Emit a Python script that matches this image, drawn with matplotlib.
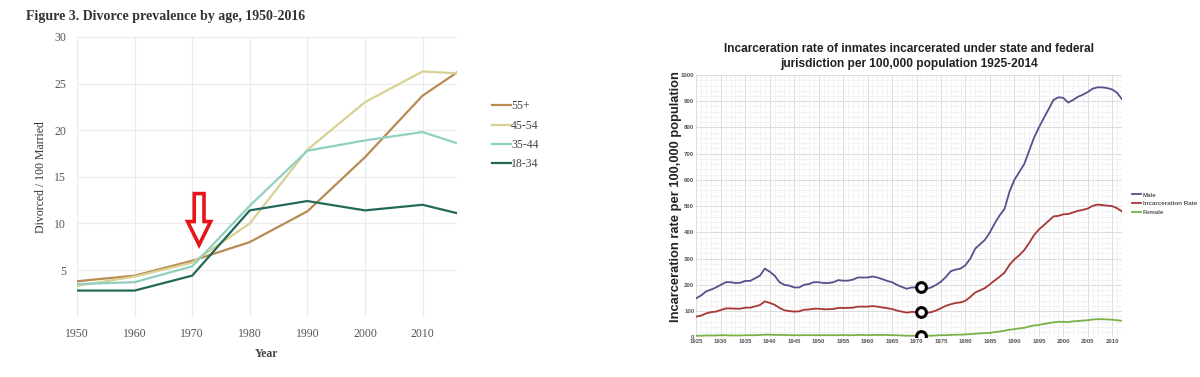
"""
Two side-by-side line charts: divorce prevalence by age (1950-2016)
and US incarceration rate per 100,000 population (1925-2012).
"""
import matplotlib
matplotlib.use('Agg')
import matplotlib.pyplot as plt
from matplotlib.patches import FancyArrow
from matplotlib.ticker import MultipleLocator

# --- Divorce prevalence data ---
div_years = [1950, 1960, 1970, 1980, 1990, 2000, 2010, 2016]
div_55_plus = [3.8, 4.4, 6.0, 8.0, 11.3, 17.1, 23.7, 26.2]
div_45_54 = [3.3, 4.3, 5.8, 10.0, 17.9, 23.0, 26.3, 26.1]
div_35_44 = [3.5, 3.7, 5.4, 11.9, 17.8, 18.9, 19.8, 18.6]
div_18_34 = [2.8, 2.8, 4.4, 11.4, 12.4, 11.4, 12.0, 11.1]
div_labels = ['55+', '45-54', '35-44', '18-34']

# --- Incarceration data (per 100,000) ---
inc_years = list(range(1925, 2013))
male_rate = [149, 160, 175, 182, 190, 200, 210, 210, 207, 208,
             215, 215, 225, 235, 262, 250, 235, 210, 200, 197,
             190, 190, 200, 203, 210, 210, 207, 207, 210, 218,
             216, 216, 220, 228, 228, 228, 232, 228, 222, 215,
             210, 200, 192, 185, 190, 190, 190, 185, 190, 200,
             212, 230, 252, 258, 262, 275, 300, 338, 355, 372,
             400, 435, 465, 490, 555, 600, 630, 660, 710, 760,
             800, 835, 870, 905, 915, 913, 895, 905, 917, 925,
             935, 948, 953, 953, 950, 945, 932, 908]
total_rate = [79, 83, 91, 96, 98, 104, 110, 110, 109, 109,
              113, 113, 118, 123, 137, 131, 124, 112, 103, 100,
              98, 99, 105, 106, 109, 109, 107, 107, 108, 112,
              112, 112, 113, 117, 117, 117, 119, 117, 114, 111,
              108, 102, 98, 94, 97, 96, 95, 93, 96, 102,
              111, 120, 126, 131, 133, 139, 154, 171, 179, 188,
              202, 217, 231, 247, 276, 297, 313, 332, 359, 389,
              411, 427, 444, 461, 463, 469, 470, 476, 482, 486,
              491, 501, 506, 504, 502, 500, 492, 480]
female_rate = [6, 6, 7, 7, 7, 8, 8, 7, 7, 7,
               8, 8, 8, 9, 10, 10, 9, 9, 9, 8,
               8, 8, 8, 8, 8, 8, 8, 8, 8, 8,
               9, 8, 8, 9, 9, 8, 9, 9, 9, 9,
               8, 8, 7, 6, 6, 6, 6, 6, 6, 7,
               8, 8, 9, 10, 10, 11, 12, 14, 15, 16,
               17, 20, 22, 25, 29, 31, 34, 36, 41, 45,
               47, 51, 54, 57, 59, 59, 58, 61, 62, 64,
               65, 68, 69, 69, 68, 67, 65, 63]
highlight_year = 1971

serif = ['Liberation Serif', 'DejaVu Serif']
sans = ['Liberation Sans', 'DejaVu Sans']

fig = plt.figure(figsize=(12, 3.77), dpi=100)

# ---------------- Left: divorce prevalence ----------------
ax1 = fig.add_axes([0.0642, 0.160, 0.3167, 0.742])
div_colors = ['#b98a52', '#d9d193', '#8fd0c1', '#24685a']
for vals, lab, col in zip([div_55_plus, div_45_54, div_35_44, div_18_34],
                          div_labels, div_colors):
    ax1.plot(div_years, vals, color=col, linewidth=1.6, label=lab)

ax1.set_xlim(1950, 2016)
ax1.set_ylim(0, 30)
ax1.set_xticks(range(1950, 2011, 10))
ax1.set_yticks(range(5, 31, 5))
ax1.grid(True, color='#ebebeb', linewidth=0.8)
ax1.set_axisbelow(True)
for s in ax1.spines.values():
    s.set_visible(False)
ax1.tick_params(length=0, labelsize=8.5, labelcolor='#555555', pad=8)
for t in ax1.get_xticklabels() + ax1.get_yticklabels():
    t.set_family(serif)
ax1.set_xlabel('Year', family=serif, fontsize=8.5, fontweight='bold',
               color='#444444', labelpad=6)
ax1.set_ylabel('Divorced / 100 Married', family=serif, fontsize=8.5,
               color='#333333')
ax1.yaxis.set_label_coords(-0.078, 0.5)
fig.text(0.022, 0.955, 'Figure 3. Divorce prevalence by age, 1950-2016',
         family=serif, fontsize=10, fontweight='bold', color='#333333',
         va='center')

leg1 = ax1.legend(loc='upper left', bbox_to_anchor=(0.401, 0.762),
                  bbox_transform=fig.transFigure, frameon=False,
                  prop={'family': serif, 'size': 8.5}, handlelength=1.6,
                  handletextpad=0.05, labelspacing=0.62)
for t in leg1.get_texts():
    t.set_color('#444444')

# hollow red arrow pointing at 1970s
arrow = FancyArrow(1971.2, 13.2, 0, -5.5, width=1.7, head_width=4.0,
                   head_length=2.5, length_includes_head=True,
                   facecolor='white', edgecolor='#e8141c', linewidth=2.6,
                   zorder=5)
ax1.add_patch(arrow)

# ---------------- Right: incarceration rate ----------------
ax2 = fig.add_axes([0.5803, 0.1053, 0.3547, 0.6957])
ax2.plot(inc_years, male_rate, color='#5e4c8c', linewidth=1.3, label='Male')
ax2.plot(inc_years, total_rate, color='#a83636', linewidth=1.3,
         label='Incarceration Rate')
ax2.plot(inc_years, female_rate, color='#78b247', linewidth=1.3,
         label='Female')
hi = inc_years.index(highlight_year)
for series in (male_rate, total_rate, female_rate):
    ax2.plot(inc_years[hi], series[hi], 'o', markersize=7,
             markerfacecolor='white', markeredgecolor='black',
             markeredgewidth=2.2, zorder=6)

ax2.set_xlim(1925, 2012)
ax2.set_ylim(0, 1000)
ax2.set_xticks(range(1925, 2011, 5))
ax2.set_yticks(range(0, 1001, 100))
ax2.xaxis.set_minor_locator(MultipleLocator(1))
ax2.yaxis.set_minor_locator(MultipleLocator(20))
ax2.grid(True, which='major', color='#dcdcdc', linewidth=0.7)
ax2.grid(True, which='minor', color='#efefef', linewidth=0.5)
ax2.set_axisbelow(True)
for s in ax2.spines.values():
    s.set_visible(False)
ax2.tick_params(which='both', length=0, labelsize=4.3, labelcolor='#555555',
                pad=1.5)
for t in ax2.get_xticklabels() + ax2.get_yticklabels():
    t.set_family(sans)
    t.set_fontweight('bold')
ax2.set_ylabel('Incarceration rate per 100,000 population', family=sans,
               fontsize=9.3, fontweight='bold', color='#222222')
ax2.yaxis.set_label_coords(-0.034, 0.537)
ax2.set_title('Incarceration rate of inmates incarcerated under state and federal\n'
              'jurisdiction per 100,000 population 1925-2014',
              family=sans, fontsize=8.6, fontweight='bold', color='#222222',
              pad=6, linespacing=1.3)

leg2 = ax2.legend(loc='upper left', bbox_to_anchor=(0.939, 0.505),
                  bbox_transform=fig.transFigure, frameon=False,
                  prop={'family': sans, 'size': 4.5, 'weight': 'bold'},
                  handlelength=1.3, handletextpad=0.4, labelspacing=0.55)
for t in leg2.get_texts():
    t.set_color('#555555')

fig.savefig('out.png', dpi=100)
